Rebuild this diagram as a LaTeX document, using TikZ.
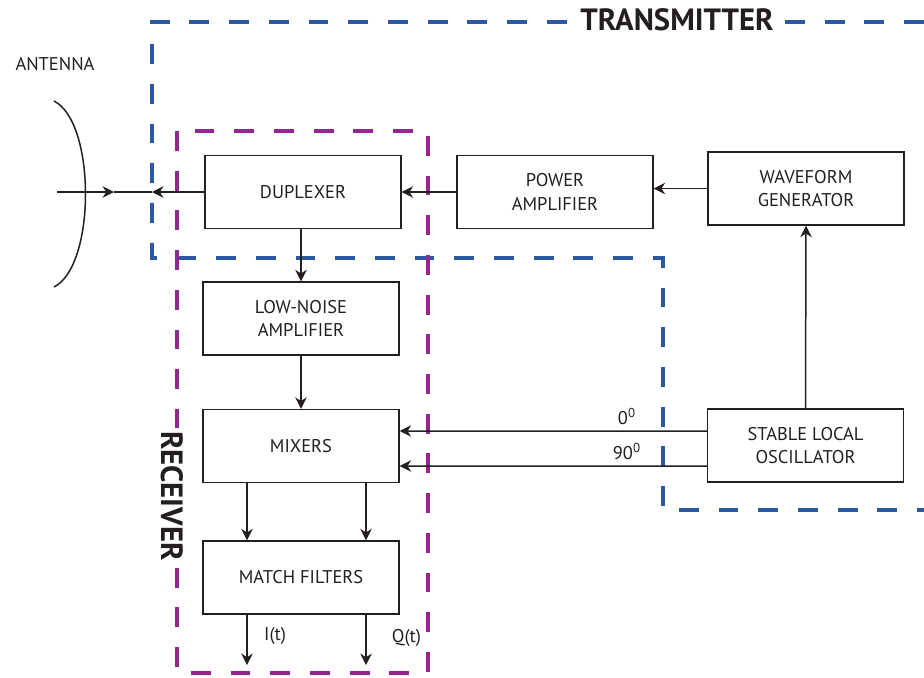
\documentclass[tikz,border=0pt]{standalone}
\usepackage{fontspec}
\setmainfont{PT Sans}
\usepackage{tikz}
\usetikzlibrary{arrows.meta,positioning}
\definecolor{txBlue}{HTML}{2A58A6}
\definecolor{rxPurple}{HTML}{93278F}
\definecolor{ink}{HTML}{231F20}

\begin{document}
\begin{tikzpicture}[x=0.02cm,y=-0.02cm,>={Stealth[length=6.5pt,width=6.5pt]},
  font=\fontsize{10.5}{13.2}\selectfont,
  blk/.style={draw=ink,line width=0.85pt,minimum width=3.92cm,minimum height=1.46cm,align=center,text=ink},
  link/.style={->,draw=ink,line width=0.85pt},
  txline/.style={txBlue,line width=2pt,dash pattern=on 11.3pt off 11.3pt},
  rxline/.style={rxPurple,line width=2pt,dash pattern=on 11.3pt off 11.3pt},
  zone/.style={font=\fontsize{17.5}{19}\selectfont\bfseries,text=ink,fill=white,inner sep=2pt}]
\useasboundingbox (0,0) rectangle (924,677);
% --- blocks ---
\node[blk] (dup) at (303,192)   {DUPLEXER};
\node[blk] (pa)  at (555,192)   {POWER\\AMPLIFIER};
\node[blk] (wg)  at (806,188.5) {WAVEFORM\\GENERATOR};
\node[blk] (lna) at (301,318.5) {LOW-NOISE\\AMPLIFIER};
\node[blk] (mix) at (301,446)   {MIXERS};
\node[blk] (mf)  at (301,577.5) {MATCH FILTERS};
\node[blk] (slo) at (805.5,445.5) {STABLE LOCAL\\OSCILLATOR};
% --- zones ---
\draw[txline] (924,22) -- (152,22) -- (152,258) -- (663,258) -- (663,510) -- (924,510);
\draw[rxline] (177,131) rectangle (428,673);
\node[zone] (txlab) at (677,20) {TRANSMITTER};
\node[zone,rotate=-90] (rxlab) at (172,496) {RECEIVER};
% --- antenna ---
\draw[ink,line width=0.85pt] (54,101) .. controls (96,122) and (96,266) .. (54,287);
\node[text=ink] (antlab) at (55,64) {ANTENNA};
\coordinate (ant) at (57,192);
\coordinate (rx) at (114,192);
\coordinate (tx) at (152,192);
\draw[link] (ant) -- (rx);
\draw[ink,line width=0.85pt] (rx) -- (tx);
\draw[link] (dup.west) -- (tx);
% --- signal flow ---
\draw[link] (pa) -- (dup);
\draw[link] (wg.west) -- (wg.west -| pa.east);
\draw[link] (slo.north) -- (wg.south);
\draw[link] (dup.south -| lna.north) -- (lna.north);
\draw[link] (lna) -- (mix);
\draw[link] ([yshift=0.29cm]slo.west) -- ([yshift=0.3cm]mix.east)
  node[pos=0.26,above,text=ink] {0\textsuperscript{0}};
\draw[link] ([yshift=-0.41cm]slo.west) -- ([yshift=-0.4cm]mix.east)
  node[pos=0.26,above,text=ink] {90\textsuperscript{0}};
\coordinate (iout) at (247,665);
\coordinate (qout) at (366,665);
\draw[link] (mix.south -| iout) -- (mf.north -| iout);
\draw[link] (mix.south -| qout) -- (mf.north -| qout);
\draw[link] (mf.south -| iout) -- (iout) node[pos=0.42,right=6pt,text=ink] {I(t)};
\draw[link] (mf.south -| qout) -- (qout) node[pos=0.47,right=11pt,text=ink] {Q(t)};
\end{tikzpicture}
\end{document}
